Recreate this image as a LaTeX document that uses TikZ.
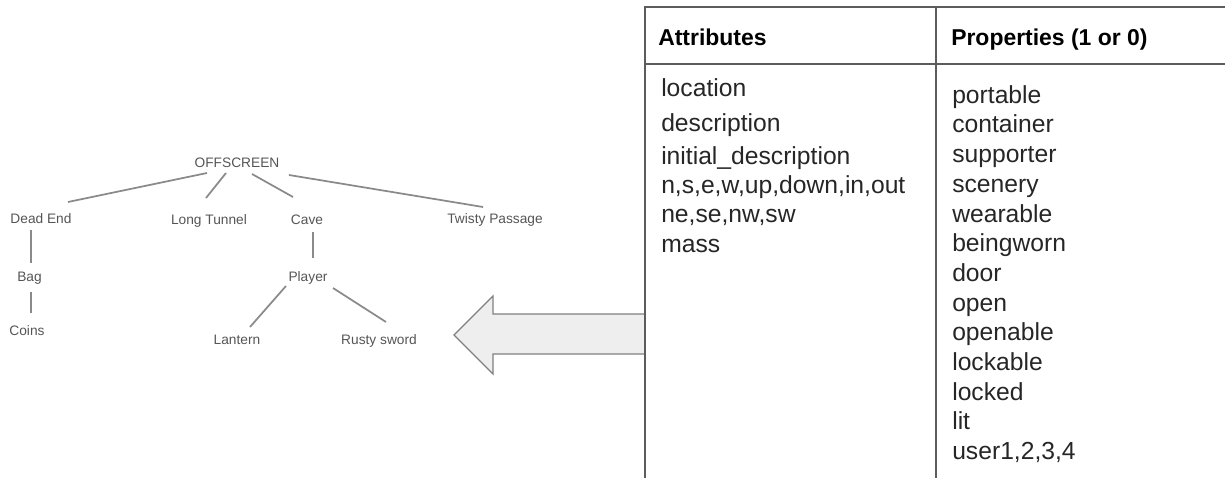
\documentclass[tikz,border=0pt]{standalone}
\usepackage{fontspec}
\setmainfont{Liberation Sans}
\definecolor{treegray}{HTML}{555555}
\definecolor{linegray}{HTML}{8A8A8A}
\definecolor{rulegray}{HTML}{5C5C5C}
\definecolor{arrowfill}{HTML}{EEEEEE}
\tikzset{
  leaf/.style={font=\fontsize{10.3}{12}\selectfont, text=treegray, inner sep=0pt,
    text height=1.6ex, text depth=.4ex},
  branch/.style={draw=linegray, line width=1.3pt},
  cell/.style={anchor=west, font=\fontsize{18.5}{21}\selectfont, text=black!85, inner sep=0pt,
    text height=1.6ex, text depth=.4ex},
  headcell/.style={anchor=west, font=\fontsize{17.2}{20}\selectfont\bfseries, text=black, inner sep=0pt,
    text height=1.6ex, text depth=.4ex},
  tablerule/.style={draw=rulegray, line width=1.4pt}
}
\begin{document}
\begin{tikzpicture}[x=0.75pt, y=-0.75pt]
  \useasboundingbox (0,0) rectangle (1225,478);
  % tree
  \node [leaf] (off) at (237,163) {OFFSCREEN};
  \node [leaf] (dead) at (41,219) {Dead End};
  \node [leaf] (tunnel) at (209,220) {Long Tunnel};
  \node [leaf] (cave) at (307,220) {Cave};
  \node [leaf] (twisty) at (495,219) {Twisty Passage};
  \node [leaf] (bag) at (29.5,277) {Bag};
  \node [leaf] (coins) at (27,331) {Coins};
  \node [leaf] (player) at (308,277) {Player};
  \node [leaf] (lantern) at (237,340) {Lantern};
  \node [leaf] (rusty) at (379,340) {Rusty sword};
  \draw [branch] ([shift={(-30,10)}]off.center) -- ([shift={(27,-17)}]dead.center);
  \draw [branch] ([shift={(-11,10)}]off.center) -- ([shift={(-3,-22)}]tunnel.center);
  \draw [branch] ([shift={(15,11)}]off.center) -- ([shift={(-14,-23)}]cave.center);
  \draw [branch] ([shift={(52,12)}]off.center) -- ([shift={(-12,-12)}]twisty.center);
  \draw [branch] ([shift={(-10,11)}]dead.center) -- ([shift={(1.5,-14)}]bag.center);
  \draw [branch] ([shift={(1.5,15)}]bag.center) -- ([shift={(4,-18)}]coins.center);
  \draw [branch] ([shift={(6,12)}]cave.center) -- ([shift={(5,-19)}]player.center);
  \draw [branch] ([shift={(-22,9)}]player.center) -- ([shift={(13,-13)}]lantern.center);
  \draw [branch] ([shift={(25,11)}]player.center) -- ([shift={(7,-18)}]rusty.center);
  % big arrow
  \draw [draw=gray, fill=arrowfill, line width=1pt, line join=miter]
    (454,335) -- (493,296) -- (493,314) -- (645,314) -- (645,354)
    -- (493,354) -- (493,374) -- cycle;
  % table
  \draw [tablerule] (1225,7) -- (645,7) -- (645,478);
  \draw [tablerule] (645,64) -- (1225,64);
  \draw [tablerule] (936,7) -- (936,478);
  \node [headcell] (attrhead) at (658,41) {Attributes};
  \node [headcell] (prophead) at (951,41) {Properties (1 or 0)};
  \node [cell] (a1) at (661,92) {location};
  \node [cell] (a2) at (661,127) {description};
  \node [cell] (a3) at (661,160) {initial\_description};
  \node [cell] (a4) at (661,189) {n,s,e,w,up,down,in,out};
  \node [cell] (a5) at (661,218) {ne,se,nw,sw};
  \node [cell] (a6) at (661,248) {mass};
  \foreach \prop [count=\k from 0] in {portable,container,supporter,scenery,wearable,beingworn,door,open,openable,lockable,locked,lit,{user1,2,3,4}}
    \node [cell] (p\k) at (952,99+29.7*\k) {\prop};
\end{tikzpicture}
\end{document}
